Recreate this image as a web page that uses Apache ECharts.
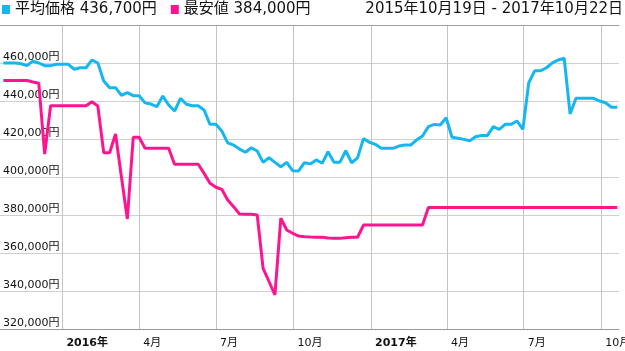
<!DOCTYPE html>
<html>
<head>
<meta charset="utf-8">
<script src="https://cdn.jsdelivr.net/npm/echarts@6/dist/echarts.min.js"></script>
<style>
html,body{margin:0;padding:0;background:#fff;}
#chart{width:625px;height:351px;}
</style>
</head>
<body>
<div id="chart"></div>
<script>
const dates = [
'2015-10-23','2015-10-30','2015-11-06','2015-11-13','2015-11-20','2015-11-27','2015-12-04','2015-12-11','2015-12-18','2015-12-25',
'2016-01-01','2016-01-08','2016-01-15','2016-01-22','2016-01-29','2016-02-05','2016-02-12','2016-02-19','2016-02-26','2016-03-04',
'2016-03-11','2016-03-18','2016-03-25','2016-04-01','2016-04-08','2016-04-15','2016-04-22','2016-04-29','2016-05-06','2016-05-13',
'2016-05-20','2016-05-27','2016-06-03','2016-06-10','2016-06-17','2016-06-24','2016-07-01','2016-07-08','2016-07-15','2016-07-22',
'2016-07-29','2016-08-05','2016-08-12','2016-08-19','2016-08-26','2016-09-02','2016-09-09','2016-09-16','2016-09-23','2016-09-30',
'2016-10-07','2016-10-14','2016-10-21','2016-10-28','2016-11-04','2016-11-11','2016-11-18','2016-11-25','2016-12-02','2016-12-09',
'2016-12-16','2016-12-23','2016-12-30','2017-01-06','2017-01-13','2017-01-20','2017-01-27','2017-02-03','2017-02-10','2017-02-17',
'2017-02-24','2017-03-03','2017-03-10','2017-03-17','2017-03-24','2017-03-31','2017-04-07','2017-04-14','2017-04-21','2017-04-28',
'2017-05-05','2017-05-12','2017-05-19','2017-05-26','2017-06-02','2017-06-09','2017-06-16','2017-06-23','2017-06-30','2017-07-07',
'2017-07-14','2017-07-21','2017-07-28','2017-08-04','2017-08-11','2017-08-18','2017-08-25','2017-09-01','2017-09-08','2017-09-15',
'2017-09-22','2017-09-29','2017-10-06','2017-10-13','2017-10-20'
];
const avgPrice = [
460000,460000,460000,459600,458600,461000,460000,458600,458600,459300,
459300,459300,456700,457500,457500,461600,460000,450500,447000,447000,
443000,444400,442800,442800,439000,438400,437000,442600,437900,434700,
441400,438300,437500,437500,435300,427700,427700,424200,418000,416800,
414700,413000,415400,413700,407700,410100,407700,405400,407700,403300,
403200,407500,406900,409000,407200,413300,407700,407700,413800,407500,
410100,420200,418300,417200,415100,415100,415100,416300,416800,416800,
419500,421600,426500,427700,427400,431200,420900,420400,419800,419100,
421200,421900,421900,426500,425100,427700,427700,429500,425100,449600,
455900,455900,457500,460100,461600,462500,433200,441400,441400,441400,
441400,440000,439100,436700,436700
];
const minPrice = [
450800,450800,450800,450800,450800,450000,449300,412100,437500,437500,
437500,437500,437500,437500,437500,439600,437400,412800,412800,422600,
400000,377900,420900,420900,415100,415100,415100,415100,415100,406700,
406700,406700,406700,406700,401900,396700,394600,393500,387900,384400,
380500,380400,380400,380000,351900,345000,337900,378300,372100,370400,
368900,368600,368400,368300,368300,367900,367700,367700,368000,368300,
368300,374700,374700,374700,374700,374700,374700,374700,374700,374700,
374700,374700,384000,384000,384000,384000,384000,384000,384000,384000,
384000,384000,384000,384000,384000,384000,384000,384000,384000,384000,
384000,384000,384000,384000,384000,384000,384000,384000,384000,384000,
384000,384000,384000,384000,384000
];
const seriesNames = ['平均価格', '最安値'];
const tickDates = ['2016-01-01','2016-04-01','2016-07-01','2016-10-01','2017-01-01','2017-04-01','2017-07-01','2017-10-01'];
const yTicks = [320000, 340000, 360000, 380000, 400000, 420000, 440000, 460000];
const rangeStart = '2015-10-19';
const rangeEnd = '2017-10-22';
const rangeText = '2015年10月19日 - 2017年10月22日';

const FONT = '"DejaVu Sans", "Noto Sans CJK JP", sans-serif';
const ts = d => Date.UTC(+d.slice(0, 4), +d.slice(5, 7) - 1, +d.slice(8, 10));
const fmtYen = v => v.toLocaleString('en-US') + '円';
const tickTs = tickDates.map(ts);
const toPairs = arr => dates.map((d, i) => [ts(d), arr[i]]);
const latest = {};
latest[seriesNames[0]] = avgPrice[avgPrice.length - 1];
latest[seriesNames[1]] = minPrice[minPrice.length - 1];

const chart = echarts.init(document.getElementById('chart'), null, {renderer: 'canvas'});
chart.setOption({
  animation: false,
  backgroundColor: '#fff',
  textStyle: {fontFamily: FONT},
  title: {
    text: rangeText, right: 2, top: 2, padding: 0,
    textStyle: {fontSize: 15, fontWeight: 'normal', color: '#111', fontFamily: FONT}
  },
  legend: {
    left: 2, top: 2, padding: 0, itemGap: 14, itemWidth: 8, itemHeight: 9, icon: 'rect',
    data: seriesNames,
    formatter: name => name + ' ' + fmtYen(latest[name]),
    textStyle: {fontSize: 15, color: '#111', fontFamily: FONT}
  },
  grid: {left: 0, right: 6, top: 25, bottom: 22, containLabel: false, outerBoundsMode: 'none'},
  xAxis: [{
    type: 'value', min: ts(rangeStart), max: ts(rangeEnd), position: 'bottom',
    axisLine: {show: true, lineStyle: {color: '#999', width: 1}},
    axisTick: {show: false, customValues: tickTs},
    axisLabel: {
      customValues: tickTs, align: 'left', margin: 9, padding: [0, 0, 0, 4],
      fontSize: 11, color: '#111', fontFamily: FONT, showMinLabel: true, showMaxLabel: true,
      formatter: v => {
        const d = new Date(v);
        return d.getUTCMonth() === 0 ? '{y|' + d.getUTCFullYear() + '年}' : (d.getUTCMonth() + 1) + '月';
      },
      rich: {y: {fontWeight: 'bold', fontSize: 11, color: '#111', fontFamily: FONT}}
    },
    splitLine: {show: true, lineStyle: {color: '#c4c4c4', width: 1}}
  }, {
    type: 'value', min: ts(rangeStart), max: ts(rangeEnd), position: 'top',
    axisLine: {show: true, lineStyle: {color: '#a0a0a0', width: 1}},
    axisTick: {show: false}, axisLabel: {show: false}, splitLine: {show: false}
  }],
  yAxis: {
    type: 'value', min: 320000, max: 480000, interval: 20000,
    axisLine: {show: false}, axisTick: {show: false},
    axisLabel: {
      inside: true, margin: 3, verticalAlign: 'bottom', align: 'left',
      fontSize: 11, color: '#111', fontFamily: FONT,
      formatter: v => yTicks.indexOf(v) >= 0 ? fmtYen(v) : ''
    },
    splitLine: {show: true, lineStyle: {color: '#d0d0d0', width: 1}}
  },
  series: [{
    name: seriesNames[0], type: 'line', data: toPairs(avgPrice),
    showSymbol: false, symbol: 'none', color: '#16b6f0',
    lineStyle: {width: 3, color: '#16b6f0'}
  }, {
    name: seriesNames[1], type: 'line', data: toPairs(minPrice),
    showSymbol: false, symbol: 'none', color: '#fd1590',
    lineStyle: {width: 3, color: '#fd1590'}
  }]
});
</script>
</body>
</html>
